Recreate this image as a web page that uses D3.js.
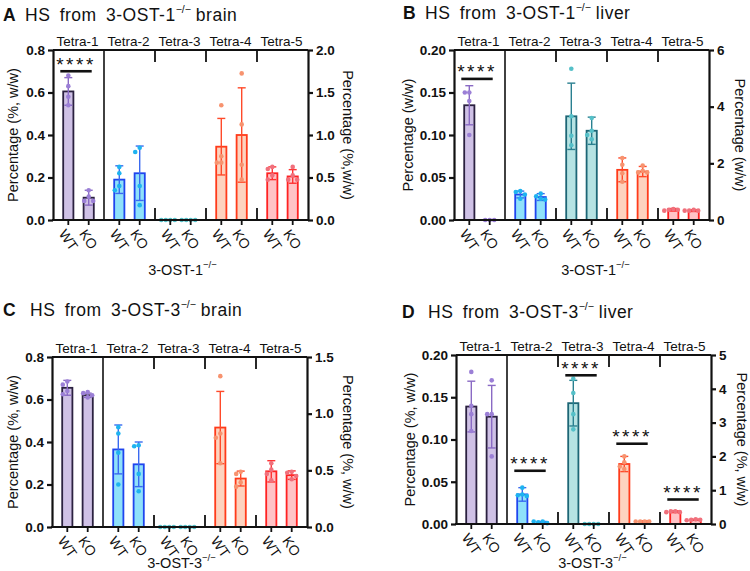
<!DOCTYPE html>
<html><head><meta charset="utf-8">
<script src="https://cdn.jsdelivr.net/npm/d3@7"></script>
<style>
body{margin:0;background:#fff}
svg{display:block;font-family:Arial,"Liberation Sans",sans-serif}
</style>
</head><body>
<svg id="chart" width="750" height="571"></svg>
<script>
// ---------- shared categories ----------
const tetras = ["Tetra-1", "Tetra-2", "Tetra-3", "Tetra-4", "Tetra-5"];
const genotypes = ["WT", "KO"];

// ---------- Panel A: HS from 3-OST-1-/- brain ----------
const aWTMean = [0.605, 0.19, 0, 0.345, 0.22];
const aKOMean = [0.105, 0.22, 0, 0.40, 0.205];
const aWTSD = [0.065, 0.065, 0, 0.133, 0.03];
const aKOSD = [0.035, 0.128, 0, 0.222, 0.032];
const aWTPts = [[0.68, 0.63, 0.58, 0.54], [0.25, 0.22, 0.16, 0.14], [0, 0, 0, 0], [0.54, 0.30, 0.27, 0.27], [0.25, 0.24, 0.21, 0.19]];
const aKOPts = [[0.14, 0.11, 0.09, 0.09], [0.34, 0.32, 0.16, 0.07], [0, 0, 0, 0], [0.69, 0.45, 0.26, 0.19], [0.25, 0.21, 0.19, 0.19]];
const aSig = [{tetra: "Tetra-1", level: 0.70}];

// ---------- Panel B: HS from 3-OST-1-/- liver ----------
const bWTMean = [0.135, 0.030, 0.122, 0.059, 0.012];
const bKOMean = [0, 0.027, 0.105, 0.057, 0.011];
const bWTSD = [0.023, 0.004, 0.039, 0.014, 0.0015];
const bKOSD = [0, 0.004, 0.016, 0.006, 0.001];
const bWTPts = [[0.15, 0.15, 0.14, 0.10], [0.034, 0.033, 0.030, 0.025], [0.178, 0.122, 0.099, 0.088], [0.073, 0.065, 0.055, 0.045], [0.013, 0.012, 0.012, 0.011]];
const bKOPts = [[0, 0, 0], [0.031, 0.028, 0.025, 0.024], [0.12, 0.105, 0.10, 0.095], [0.064, 0.058, 0.056, 0.056], [0.012, 0.011, 0.011, 0.011]];
const bSig = [{tetra: "Tetra-1", level: 0.166}];

// ---------- Panel C: HS from 3-OST-3-/- brain ----------
const cWTMean = [0.655, 0.365, 0, 0.468, 0.262];
const cKOMean = [0.62, 0.295, 0, 0.228, 0.244];
const cWTSD = [0.035, 0.115, 0, 0.17, 0.05];
const cKOSD = [0.01, 0.105, 0, 0.035, 0.02];
const cWTPts = [[0.685, 0.67, 0.64, 0.625], [0.47, 0.44, 0.35, 0.20], [0, 0, 0, 0], [0.71, 0.44, 0.42, 0.30], [0.30, 0.27, 0.25, 0.22]];
const cKOPts = [[0.635, 0.63, 0.62, 0.61], [0.385, 0.38, 0.25, 0.168], [0, 0, 0, 0], [0.26, 0.25, 0.21, 0.19], [0.26, 0.255, 0.24, 0.225]];
const cSig = [];

// ---------- Panel D: HS from 3-OST-3-/- liver ----------
const dWTMean = [0.139, 0.035, 0.143, 0.071, 0.0145];
const dKOMean = [0.127, 0.002, 0, 0.003, 0.005];
const dWTSD = [0.03, 0.008, 0.027, 0.009, 0.001];
const dKOSD = [0.037, 0.001, 0, 0.0005, 0.0005];
const dWTPts = [[0.18, 0.14, 0.13, 0.11], [0.043, 0.035, 0.034, 0.033], [0.172, 0.155, 0.13, 0.112], [0.08, 0.073, 0.068, 0.065], [0.015, 0.015, 0.014, 0.014]];
const dKOPts = [[0.17, 0.13, 0.13, 0.08], [0.003, 0.002, 0.001, 0.003], [0, 0, 0, 0], [0.003, 0.003, 0.003, 0.003], [0.0055, 0.005, 0.005, 0.0045]];
const dSig = [{tetra: "Tetra-2", level: 0.063}, {tetra: "Tetra-3", level: 0.176}, {tetra: "Tetra-4", level: 0.095}, {tetra: "Tetra-5", level: 0.029}];

// ---------- tick values ----------
const brainLeftTicks = [0, 0.2, 0.4, 0.6, 0.8];
const liverLeftTicks = [0, 0.05, 0.10, 0.15, 0.20];
const aRightTicks = [0, 0.5, 1.0, 1.5, 2.0];
const bRightTicks = [0, 2, 4, 6];
const cRightTicks = [0, 0.5, 1.0, 1.5];
const dRightTicks = [0, 1, 2, 3, 4, 5];

// ---------- colours per tetrasaccharide ----------
const fillColors = ["#cfc1e6", "#8fe1fa", "#b6e3e3", "#fdd3bf", "#ffc3c6"];
const strokeColors = ["#2b2140", "#1f45ee", "#1d6676", "#ff3b1a", "#ff2222"];
const errColors = ["#8a6ac4", "#3a6af0", "#2a8090", "#ff4a2a", "#ff3333"];
const dotColors = ["#9b7fd6", "#1eb3f0", "#55c0c8", "#f7936f", "#f0707c"];

const panels = [
  {letter: "A", titleMain: "HS from 3-OST-1", titleTail: "brain", xTitle: "3-OST-1",
   leftTitle: "Percentage (%, w/w)", rightTitle: "Percentage (%,w/w)",
   lTicks: brainLeftTicks, lFmt: ".1f", rTicks: aRightTicks, rFmt: ".1f",
   wtMean: aWTMean, koMean: aKOMean, wtSD: aWTSD, koSD: aKOSD, wtPts: aWTPts, koPts: aKOPts, sig: aSig,
   L: {x0: 53, x1: 308, yTop: 50, yBot: 220, letterX: 3, titleX: 25, titleY: 21, lTitleX: 13, rTitleX: 348, xTitleY: 275, xTitleDx: 2}},
  {letter: "B", titleMain: "HS from 3-OST-1", titleTail: "liver", xTitle: "3-OST-1",
   leftTitle: "Percentage (w/w)", rightTitle: "Percentage (w/w)",
   lTicks: liverLeftTicks, lFmt: ".2f", rTicks: bRightTicks, rFmt: "d",
   wtMean: bWTMean, koMean: bKOMean, wtSD: bWTSD, koSD: bKOSD, wtPts: bWTPts, koPts: bKOPts, sig: bSig,
   L: {x0: 454, x1: 709, yTop: 50, yBot: 220, letterX: 403, titleX: 425, titleY: 19, lTitleX: 408, rTitleX: 740, xTitleY: 275, xTitleDx: 14}},
  {letter: "C", titleMain: "HS from 3-OST-3", titleTail: "brain", xTitle: "3-OST-3",
   leftTitle: "Percentage (%, w/w)", rightTitle: "Percentage (%, w/w)",
   lTicks: brainLeftTicks, lFmt: ".1f", rTicks: cRightTicks, rFmt: ".1f",
   wtMean: cWTMean, koMean: cKOMean, wtSD: cWTSD, koSD: cKOSD, wtPts: cWTPts, koPts: cKOPts, sig: cSig,
   L: {x0: 52, x1: 307, yTop: 357, yBot: 527, letterX: 3, titleX: 30, titleY: 316, lTitleX: 13, rTitleX: 348, xTitleY: 568, xTitleDx: 2}},
  {letter: "D", titleMain: "HS from 3-OST-3", titleTail: "liver", xTitle: "3-OST-3",
   leftTitle: "Percentage (%, w/w)", rightTitle: "Percentage (%, w/w)",
   lTicks: liverLeftTicks, lFmt: ".2f", rTicks: dRightTicks, rFmt: "d",
   wtMean: dWTMean, koMean: dKOMean, wtSD: dWTSD, koSD: dKOSD, wtPts: dWTPts, koPts: dKOPts, sig: dSig,
   L: {x0: 456, x1: 711, yTop: 355, yBot: 524, letterX: 402, titleX: 428, titleY: 318, lTitleX: 410, rTitleX: 742, xTitleY: 568, xTitleDx: 9}}
];

const svg = d3.select("#chart");

function spread(vals, y) {
  const placed = [];
  const cands = [0, -4.5, 4.5, -9, 9, -13.5, 13.5];
  return vals.map(v => {
    const p = {v, py: y(v), dx: 0};
    const near = placed.filter(q => Math.abs(q.py - p.py) < 4.4);
    for (const c of cands) {
      if (!near.some(q => Math.abs(q.dx - c) < 4.2)) { p.dx = c; break; }
    }
    placed.push(p);
    return p;
  });
}

panels.forEach(P => {
  const L = P.L;
  const g = svg.append("g");
  const lMax = P.lTicks[P.lTicks.length - 1];
  const rMax = P.rTicks[P.rTicks.length - 1];
  const y = d3.scaleLinear().domain([0, lMax]).range([L.yBot, L.yTop]);
  const yR = d3.scaleLinear().domain([0, rMax]).range([L.yBot, L.yTop]);
  const xg = d3.scaleBand().domain(tetras).range([L.x0, L.x1]);
  const xs = d3.scaleBand().domain(genotypes).range([0, xg.bandwidth()]).paddingInner(0.5).paddingOuter(0.5);
  const cx = (t, gt) => xg(t) + xs(gt) + xs.bandwidth() / 2;

  // panel title
  const tt = g.append("text").attr("x", L.letterX).attr("y", L.titleY)
    .attr("font-size", 17.5).attr("fill", "#111");
  tt.append("tspan").attr("font-weight", "bold").text(P.letter);
  const t2 = g.append("text").attr("x", L.titleX).attr("y", L.titleY)
    .attr("font-size", 17.5).attr("fill", "#111").style("word-spacing", "4px").style("letter-spacing", "0.5px");
  t2.append("tspan").text(P.titleMain);
  t2.append("tspan").attr("font-size", 10.5).attr("dy", -8).style("letter-spacing", "0px").text("\u2212/\u2212");
  t2.append("tspan").attr("dy", 8).attr("dx", 5).text(P.titleTail);

  // build records
  const recs = [];
  tetras.forEach((t, i) => {
    recs.push({t, i, gt: "WT", mean: P.wtMean[i], sd: P.wtSD[i], pts: P.wtPts[i]});
    recs.push({t, i, gt: "KO", mean: P.koMean[i], sd: P.koSD[i], pts: P.koPts[i]});
  });

  // bars
  g.selectAll("rect.bar").data(recs.filter(d => d.mean > 0)).join("rect")
    .attr("class", "bar")
    .attr("x", d => cx(d.t, d.gt) - xs.bandwidth() / 2)
    .attr("width", xs.bandwidth())
    .attr("y", d => y(d.mean))
    .attr("height", d => y(0) - y(d.mean))
    .attr("fill", d => fillColors[d.i])
    .attr("stroke", d => strokeColors[d.i])
    .attr("stroke-width", 1.8);

  // error bars
  const eb = g.selectAll("g.eb").data(recs.filter(d => d.sd > 0)).join("g").attr("class", "eb")
    .attr("stroke", d => errColors[d.i]).attr("stroke-width", 1.4);
  eb.append("line").attr("x1", d => cx(d.t, d.gt)).attr("x2", d => cx(d.t, d.gt))
    .attr("y1", d => y(Math.max(0, d.mean - d.sd))).attr("y2", d => y(d.mean + d.sd));
  eb.append("line").attr("x1", d => cx(d.t, d.gt) - 4).attr("x2", d => cx(d.t, d.gt) + 4)
    .attr("y1", d => y(d.mean + d.sd)).attr("y2", d => y(d.mean + d.sd));
  eb.filter(d => d.mean - d.sd > 0).append("line").attr("x1", d => cx(d.t, d.gt) - 4).attr("x2", d => cx(d.t, d.gt) + 4)
    .attr("y1", d => y(d.mean - d.sd)).attr("y2", d => y(d.mean - d.sd));

  // dots
  recs.forEach(d => {
    const pts = spread(d.pts, y);
    g.selectAll(null).data(pts).join("circle")
      .attr("cx", p => cx(d.t, d.gt) + p.dx)
      .attr("cy", p => p.py)
      .attr("r", 2.3)
      .attr("fill", dotColors[d.i]);
  });

  // frame: top line
  g.append("line").attr("x1", L.x0).attr("x2", L.x1).attr("y1", L.yTop).attr("y2", L.yTop)
    .attr("stroke", "#111").attr("stroke-width", 2);
  // full divider between Tetra-1 and Tetra-2
  g.append("line").attr("x1", xg("Tetra-2")).attr("x2", xg("Tetra-2")).attr("y1", L.yTop).attr("y2", L.yBot)
    .attr("stroke", "#111").attr("stroke-width", 1.6);
  // short dividers top & bottom
  tetras.slice(2).forEach(t => {
    [[L.yTop, L.yTop + 12], [L.yBot - 12, L.yBot]].forEach(([a, b]) => {
      g.append("line").attr("x1", xg(t)).attr("x2", xg(t)).attr("y1", a).attr("y2", b)
        .attr("stroke", "#111").attr("stroke-width", 1.8);
    });
  });

  // left axis
  const la = g.append("g").attr("transform", `translate(${L.x0},0)`)
    .call(d3.axisLeft(y).tickValues(P.lTicks).tickFormat(d3.format(P.lFmt)).tickSize(5).tickSizeOuter(0).tickPadding(3));
  // right axis
  const ra = g.append("g").attr("transform", `translate(${L.x1},0)`)
    .call(d3.axisRight(yR).tickValues(P.rTicks).tickFormat(d3.format(P.rFmt)).tickSize(5).tickSizeOuter(0).tickPadding(3));
  [la, ra].forEach(a => {
    a.select(".domain").attr("stroke", "#111").attr("stroke-width", 2.2);
    a.selectAll(".tick line").attr("stroke", "#111").attr("stroke-width", 2.2);
    a.selectAll(".tick text").attr("font-size", 13.5).attr("font-weight", "bold").attr("fill", "#111")
      .attr("font-family", "Arial, 'Liberation Sans', sans-serif");
  });

  // bottom axis line + ticks at bars
  g.append("line").attr("x1", L.x0 - 1).attr("x2", L.x1 + 1).attr("y1", L.yBot).attr("y2", L.yBot)
    .attr("stroke", "#111").attr("stroke-width", 2.2);
  g.selectAll("line.xt").data(recs).join("line").attr("class", "xt")
    .attr("x1", d => cx(d.t, d.gt)).attr("x2", d => cx(d.t, d.gt))
    .attr("y1", L.yBot).attr("y2", L.yBot + 5).attr("stroke", "#111").attr("stroke-width", 1.8);
  g.selectAll("text.xl").data(recs).join("text").attr("class", "xl")
    .attr("transform", d => `translate(${cx(d.t, d.gt) - 6},${L.yBot + 11}) rotate(55)`)
    .attr("font-size", 14).attr("fill", "#111").attr("dy", "0.35em").text(d => d.gt);

  // tetra labels
  g.selectAll("text.tl").data(tetras).join("text").attr("class", "tl")
    .attr("x", t => xg(t) + xg.bandwidth() / 2 - 1).attr("y", L.yTop - 4)
    .attr("text-anchor", "middle").attr("font-size", 13.5).attr("fill", "#111").text(t => t);

  // axis titles
  const ym = (L.yTop + L.yBot) / 2;
  g.append("text").attr("transform", `translate(${L.lTitleX},${ym}) rotate(-90)`)
    .attr("text-anchor", "middle").attr("dy", "0.35em").attr("font-size", 14.5).attr("fill", "#111").text(P.leftTitle);
  g.append("text").attr("transform", `translate(${L.rTitleX},${ym}) rotate(90)`)
    .attr("text-anchor", "middle").attr("dy", "0.35em").attr("font-size", 14.5).attr("fill", "#111").text(P.rightTitle);
  const xt = g.append("text").attr("x", (L.x0 + L.x1) / 2 + L.xTitleDx).attr("y", L.xTitleY)
    .attr("text-anchor", "middle").attr("font-size", 14.5).attr("fill", "#111");
  xt.append("tspan").text(P.xTitle);
  xt.append("tspan").attr("font-size", 9.5).attr("dy", -7).text("\u2212/\u2212");

  // significance
  P.sig.forEach(s => {
    const xa = cx(s.tetra, "WT") - 8, xb = cx(s.tetra, "KO") + 3;
    g.append("line").attr("x1", xa).attr("x2", xb).attr("y1", y(s.level)).attr("y2", y(s.level))
      .attr("stroke", "#111").attr("stroke-width", 2.6);
    g.append("text").attr("x", (xa + xb) / 2).attr("y", y(s.level) - 0.5)
      .attr("text-anchor", "middle").attr("font-size", 19).style("letter-spacing", "2.5px")
      .attr("fill", "#111").text("****");
  });
});
</script>
</body></html>
